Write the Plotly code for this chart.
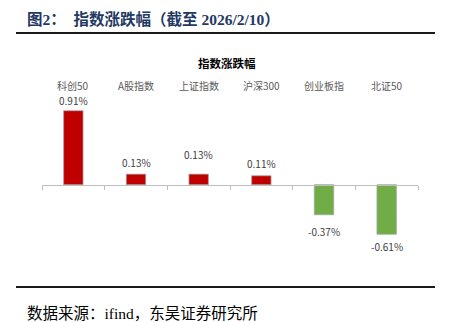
import plotly.graph_objects as go

# Index daily change (%), as of 2026/2/10
categories = ["科创50", "A股指数", "上证指数", "沪深300", "创业板指", "北证50"]
changes = [0.91, 0.13, 0.13, 0.11, -0.37, -0.61]
value_labels = ["0.91%", "0.13%", "0.13%", "0.11%", "-0.37%", "-0.61%"]
label_shift = [0, 0, 8, 0, 5, 0]  # extra offset (px) for crowded labels

RED = "#C00000"
GREEN = "#70AD47"
Y_MIN, Y_MAX = -1.0, 1.3

W, H = 453, 322
ML, MR, MT, MB = 42, 35, 79, 56
PLOT_W = W - ML - MR
PLOT_H = H - MT - MB


def px_x(x):
    return (x - ML) / PLOT_W


def px_y(y):
    return (H - MB - y) / PLOT_H


colors = [RED if v >= 0 else GREEN for v in changes]

fig = go.Figure()
fig.add_trace(go.Bar(
    x=categories, y=changes,
    marker=dict(color=colors, line=dict(color="#A6A6A6", width=0.75)),
    width=0.31, showlegend=False, hoverinfo="skip",
))
# invisible trace that activates the zero-line category axis
fig.add_trace(go.Scatter(x=categories, y=[0] * len(categories), xaxis="x2",
                         mode="markers", marker=dict(opacity=0),
                         showlegend=False, hoverinfo="skip"))

fig.update_layout(
    width=W, height=H,
    margin=dict(l=ML, r=MR, t=MT, b=MB),
    paper_bgcolor="white", plot_bgcolor="white",
    font=dict(family="Noto Sans CJK SC", size=10, color="#595959"),
    xaxis=dict(showticklabels=False, showline=False, ticks="", showgrid=False,
               zeroline=False, categoryorder="array", categoryarray=categories),
    xaxis2=dict(overlaying="x", matches="x", anchor="free",
                position=(0 - Y_MIN) / (Y_MAX - Y_MIN),
                showline=True, linecolor="#BFBFBF", linewidth=1,
                ticks="outside", tickson="boundaries", ticklen=4,
                tickcolor="#BFBFBF", tickwidth=1,
                showticklabels=False, showgrid=False, zeroline=False,
                categoryorder="array", categoryarray=categories),
    yaxis=dict(range=[Y_MIN, Y_MAX], visible=False, showgrid=False, zeroline=False),
)

annotations = []
# category names along the top
for c in categories:
    annotations.append(dict(x=c, y=px_y(85.5), xref="x", yref="paper", yanchor="middle",
                            text=c, showarrow=False, font=dict(size=10, color="#595959")))
# value labels
for i, (c, v, t) in enumerate(zip(categories, changes, value_labels)):
    font = dict(size=10, color="#404040")
    if i == 0:
        # tallest bar: value sits just under its category name
        annotations.append(dict(x=c, y=px_y(100.5), xref="x", yref="paper",
                                yanchor="middle", text=t, showarrow=False, font=font))
    elif v >= 0:
        annotations.append(dict(x=c, y=v, xref="x", yref="y", yanchor="middle", text=t,
                                showarrow=False, yshift=12 + label_shift[i], font=font))
    else:
        annotations.append(dict(x=c, y=v, xref="x", yref="y", yanchor="middle", text=t,
                                showarrow=False, yshift=-12 - label_shift[i], font=font))

# chart title
annotations.append(dict(x=px_x(227), y=px_y(63), xref="paper", yref="paper",
                        xanchor="center", yanchor="middle",
                        text="<b>指数涨跌幅</b>", showarrow=False,
                        font=dict(size=11.5, color="#000000")))

# figure heading and source note
annotations.append(dict(x=px_x(25), y=px_y(19), xref="paper", yref="paper",
                        xanchor="left", yanchor="middle", showarrow=False,
                        text="<b>图2：  指数涨跌幅（截至 2026/2/10）</b>",
                        font=dict(family="Liberation Serif, Noto Sans CJK SC", size=15.5,
                                  color="#1F3864")))
annotations.append(dict(x=px_x(25), y=px_y(313), xref="paper", yref="paper",
                        xanchor="left", yanchor="middle", showarrow=False,
                        text="数据来源：ifind，东吴证券研究所",
                        font=dict(family="Liberation Serif, Noto Sans CJK SC", size=15.5,
                                  color="#000000")))
fig.update_layout(annotations=annotations)

# layout rules above and below the chart
for ypx in (33, 287):
    fig.add_shape(type="line", xref="paper", yref="paper",
                  x0=px_x(16), x1=px_x(435), y0=px_y(ypx), y1=px_y(ypx),
                  line=dict(color="#1A1A1A", width=2))

fig.write_html("out.html")
